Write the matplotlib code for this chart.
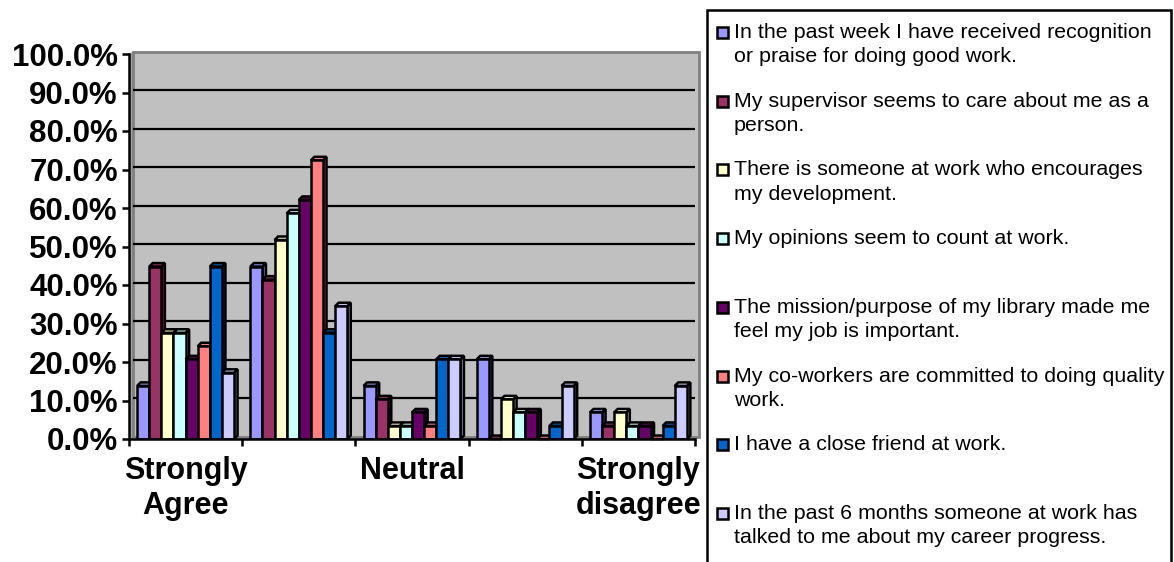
import numpy as np
import matplotlib.pyplot as plt
import matplotlib.colors as mcolors
from matplotlib.patches import Polygon, Rectangle

plt.rcParams['font.family'] = ['Liberation Sans', 'DejaVu Sans']

categories = ["Strongly\nAgree", "Agree", "Neutral", "Disagree", "Strongly\ndisagree"]
shown_cats = [0, 2, 4]

# percent of respondents per answer, one list per statement
recognition = [13.8, 44.8, 13.8, 20.7, 6.9]
supervisor = [44.8, 41.4, 10.3, 0.0, 3.4]
development = [27.6, 51.7, 3.4, 10.3, 6.9]
opinions = [27.6, 58.6, 3.4, 6.9, 3.4]
mission = [20.7, 62.1, 6.9, 6.9, 3.4]
coworkers = [24.1, 72.4, 3.4, 0.0, 0.0]
friend = [44.8, 27.6, 20.7, 3.4, 3.4]
career = [17.2, 34.5, 20.7, 13.8, 13.8]

series = [recognition, supervisor, development, opinions, mission, coworkers, friend, career]
labels = [
    "In the past week I have received recognition\nor praise for doing good work.",
    "My supervisor seems to care about me as a\nperson.",
    "There is someone at work who encourages\nmy development.",
    "My opinions seem to count at work.",
    "The mission/purpose of my library made me\nfeel my job is important.",
    "My co-workers are committed to doing quality\nwork.",
    "I have a close friend at work.",
    "In the past 6 months someone at work has\ntalked to me about my career progress.",
]
colors = ["#9999FF", "#993366", "#FFFFCC", "#CCFFFF", "#660066", "#FF8080", "#0066CC", "#CCCCFF"]
yticks = np.arange(0, 101, 10)

W, H = 1174, 562
BW = 0.107          # bar width (category units)
DX, DY = 0.031, 0.9  # bar depth offset
WX, WY = 0.035, 0.6  # wall offset


def fx(px): return px / W
def fy(py): return 1 - py / H


def shade(c, f):
    r, g, b = mcolors.to_rgb(c)
    return (r * f, g * f, b * f)


fig = plt.figure(figsize=(W / 100, H / 100), dpi=100)
ax = fig.add_axes([fx(129), fy(439), fx(695) - fx(129), fy(54) - fy(439)])
ax.set_xlim(-0.5, 4.5)
ax.set_ylim(0, 100)
ax.set_facecolor('white')

# back wall, side wall and floor
ax.add_patch(Polygon([(-0.5, 0), (-0.5 + WX, WY), (-0.5 + WX, 100 + WY), (-0.5, 100)],
                     fc='#A0A0A0', ec='none', zorder=0, clip_on=False))
ax.add_patch(Rectangle((-0.5 + WX, WY), 5, 100, fc='#C0C0C0', ec='#808080', lw=2,
                       zorder=0, clip_on=False))
ax.add_patch(Polygon([(-0.5, 0), (4.5, 0), (4.5 + WX, WY), (-0.5 + WX, WY)],
                     fc='#808080', ec='none', zorder=0, clip_on=False))
ax.hlines(yticks[1:-1] + WY, -0.5 + WX, 4.5 + WX, colors='k', lw=1.6, zorder=1)

# 3d-ish bars
x = np.arange(len(categories))
z = 2
for j in range(len(categories)):
    for i, vals in enumerate(series):
        x0 = x[j] + (i - 4) * BW
        h = vals[j]
        c = colors[i]
        ax.add_patch(Polygon([(x0 + BW, 0), (x0 + BW + DX, DY), (x0 + BW + DX, h + DY), (x0 + BW, h)],
                             fc=shade(c, 0.7), ec='k', lw=1.8, zorder=z, clip_on=False))
        ax.add_patch(Polygon([(x0, h), (x0 + DX, h + DY), (x0 + BW + DX, h + DY), (x0 + BW, h)],
                             fc=c, ec='k', lw=1.8, zorder=z, clip_on=False))
        ax.bar(x0, h, BW, align='edge', color=c, edgecolor='k', lw=1.8, zorder=z)
        z += 1

for s in ['top', 'right']:
    ax.spines[s].set_visible(False)
for s in ['left', 'bottom']:
    ax.spines[s].set_linewidth(1.8)
    ax.spines[s].set_zorder(200)

ax.set_yticks(yticks)
ax.set_yticklabels([f"{v:.1f}%" for v in yticks], fontsize=22.5, fontweight='bold')
ax.tick_params(axis='y', length=5, width=1.8, pad=3, direction='out')

ax.set_xticks(np.arange(-0.5, 5, 1))
ax.set_xticklabels([])
ax.set_xticks(shown_cats, minor=True)
ax.set_xticklabels([categories[k] for k in shown_cats], minor=True,
                   fontsize=22, fontweight='bold', linespacing=1.25)
ax.tick_params(axis='x', which='major', length=5, width=1.8, direction='out')
ax.tick_params(axis='x', which='minor', length=0, pad=12)

# legend box
fig.add_artist(Rectangle((fx(707), -0.1), fx(1171) - fx(707), fy(10) + 0.1,
                         transform=fig.transFigure, fill=False, ec='k', lw=1.8))
for i, (lab, c) in enumerate(zip(labels, colors)):
    yc = 32.5 + i * 68.7
    fig.add_artist(Rectangle((fx(717), fy(yc + 5.5)), 11 / W, 11 / H, transform=fig.transFigure,
                             fc=c, ec='k', lw=1.8))
    for k, line in enumerate(lab.split("\n")):
        fig.text(fx(734), fy(yc + k * 24.5), line, fontsize=15.4, va='center', ha='left')

fig.savefig("out.png", dpi=100)
